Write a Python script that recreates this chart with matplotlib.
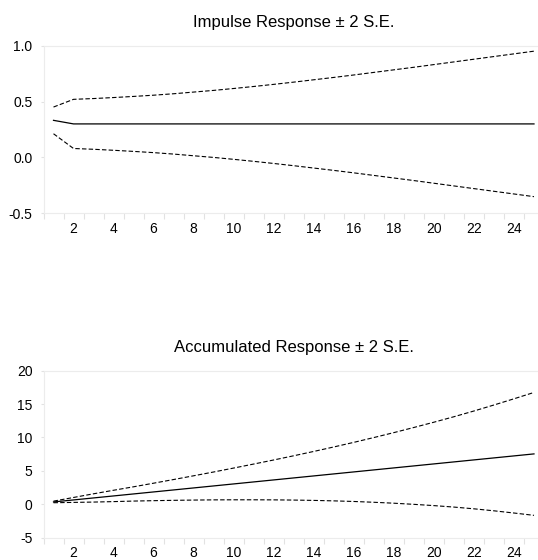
import matplotlib
matplotlib.use("Agg")
import matplotlib.pyplot as plt
from matplotlib.ticker import FixedLocator, NullFormatter

plt.rcParams['font.family'] = ['Liberation Sans', 'DejaVu Sans']

periods = list(range(1, 26))

impulse = [0.332] + [0.300] * 24
impulse_upper = [0.451, 0.520, 0.527, 0.536, 0.546, 0.557, 0.570, 0.585, 0.600, 0.617,
                 0.635, 0.654, 0.674, 0.695, 0.716, 0.738, 0.761, 0.784, 0.807, 0.831,
                 0.855, 0.879, 0.903, 0.927, 0.951]
impulse_lower = [0.212, 0.080, 0.073, 0.064, 0.054, 0.043, 0.030, 0.015, 0.000, -0.017,
                 -0.035, -0.054, -0.074, -0.095, -0.116, -0.138, -0.161, -0.184, -0.207, -0.231,
                 -0.255, -0.279, -0.303, -0.327, -0.351]

accum = [0.33, 0.63, 0.93, 1.23, 1.53, 1.83, 2.13, 2.43, 2.73, 3.03,
         3.33, 3.63, 3.93, 4.23, 4.53, 4.83, 5.13, 5.43, 5.73, 6.03,
         6.33, 6.63, 6.93, 7.23, 7.53]
accum_upper = [0.45, 1.00, 1.55, 2.08, 2.60, 3.14, 3.69, 4.25, 4.82, 5.41,
               6.01, 6.62, 7.25, 7.90, 8.57, 9.26, 9.98, 10.72, 11.49, 12.28,
               13.10, 13.96, 14.86, 15.79, 16.74]
accum_lower = [0.21, 0.26, 0.31, 0.38, 0.46, 0.52, 0.57, 0.61, 0.64, 0.65,
               0.65, 0.64, 0.61, 0.56, 0.49, 0.40, 0.28, 0.14, -0.03, -0.22,
               -0.44, -0.70, -1.00, -1.33, -1.68]

titles = ["Impulse Response \u00b1 2 S.E.", "Accumulated Response \u00b1 2 S.E."]
y_limits = [(-0.5, 1.0), (-5, 20)]
y_ticks = [[-0.5, 0.0, 0.5, 1.0], [-5, 0, 5, 10, 15, 20]]
y_ticklabels = [["-0.5", "0.0", "0.5", "1.0"], ["-5", "0", "5", "10", "15", "20"]]
x_labels = list(range(2, 25, 2))

W, H = 538, 560
fig = plt.figure(figsize=(W / 100, H / 100), dpi=100)

left_px, right_px = 43.5, 544.0
panels = [(45.7, 213.3), (370.7, 537.5)]
series = [(impulse, impulse_upper, impulse_lower), (accum, accum_upper, accum_lower)]

frame_col = '#ececec'
tick_col = '#e2e2e2'

for i, (top, bot) in enumerate(panels):
    ax = fig.add_axes([left_px / W, 1 - bot / H, (right_px - left_px) / W, (bot - top) / H])
    mid, up, lo = series[i]
    ax.plot(periods, up, color='black', lw=0.8, linestyle=(0, (4, 2)))
    ax.plot(periods, lo, color='black', lw=0.8, linestyle=(0, (4, 2)))
    ax.plot(periods, mid, color='black', lw=0.9)
    ax.set_xlim(0.5, 25.5)
    ax.set_ylim(*y_limits[i])
    ax.set_yticks(y_ticks[i])
    ax.set_yticklabels(y_ticklabels[i])
    ax.set_xticks(x_labels)
    ax.set_xticklabels([str(v) for v in x_labels])
    ax.xaxis.set_minor_locator(FixedLocator([p + 0.5 for p in range(0, 25)]))
    ax.xaxis.set_minor_formatter(NullFormatter())
    ax.tick_params(axis='x', which='major', length=0, pad=6.2, labelsize=10, colors='black')
    ax.tick_params(axis='x', which='minor', length=4, width=0.8, color=tick_col, direction='out')
    ax.tick_params(axis='y', which='major', length=2.5, width=0.8, color=tick_col, pad=5.5,
                   labelsize=10, labelcolor='black')
    for s in ['top', 'left', 'bottom']:
        ax.spines[s].set_color(frame_col)
        ax.spines[s].set_linewidth(0.8)
    ax.spines['right'].set_visible(False)
    ax.set_title(titles[i], fontsize=12, pad=13.7)

fig.savefig("out.png", dpi=100)
